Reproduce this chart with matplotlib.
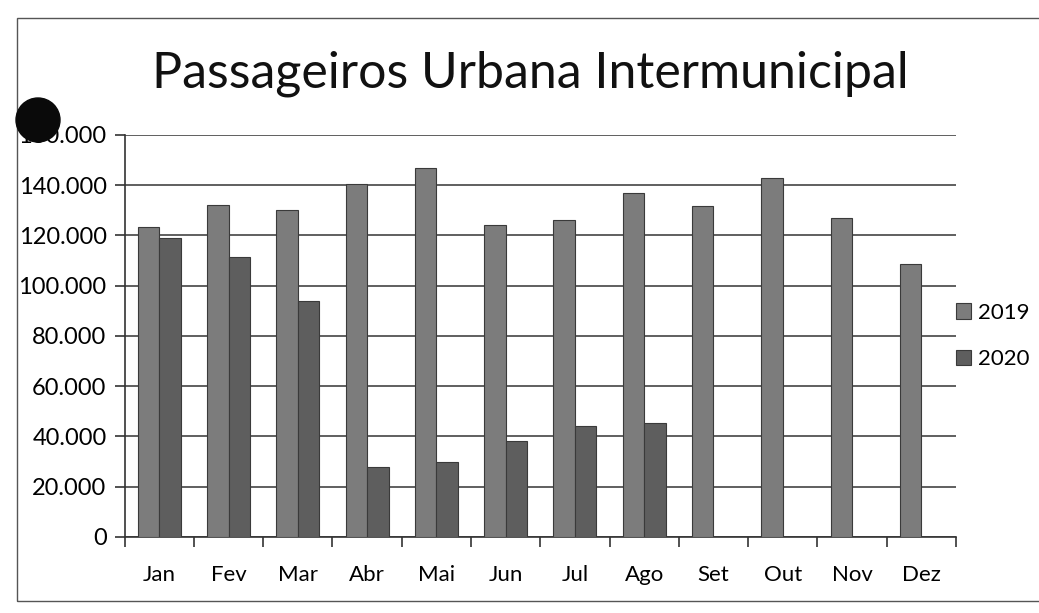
import matplotlib
matplotlib.use("Agg")
import matplotlib.pyplot as plt
from matplotlib.ticker import FuncFormatter
from matplotlib.patches import Circle, Rectangle
import numpy as np

# Données
meses = ["Jan", "Fev", "Mar", "Abr", "Mai", "Jun", "Jul", "Ago", "Set", "Out", "Nov", "Dez"]
passageiros_2019 = [123500, 132000, 130000, 140500, 147000, 124000, 126000, 137000, 131500, 143000, 127000, 108500]
passageiros_2020 = [119000, 111500, 94000, 28000, 30000, 38000, 44000, 45500]

plt.rcParams['font.family'] = ['Lato', 'DejaVu Sans']

fig = plt.figure(figsize=(10.39, 6.13), dpi=100)
ax = fig.add_axes([0.120, 0.124, 0.80, 0.656])

x = np.arange(len(meses))
largeur = 0.31
cor_2019 = "#7c7c7c"
cor_2020 = "#5e5e5e"

ax.bar(x - largeur / 2, passageiros_2019, width=largeur, color=cor_2019,
       edgecolor="#3a3a3a", linewidth=0.8, label="2019", zorder=3)
x2 = np.arange(len(passageiros_2020))
ax.bar(x2 + largeur / 2, passageiros_2020, width=largeur, color=cor_2020,
       edgecolor="#3a3a3a", linewidth=0.8, label="2020", zorder=3)

ax.set_xlim(-0.5, len(meses) - 0.5)
ax.set_ylim(0, 160000)
ax.set_yticks(np.arange(0, 160001, 20000))
ax.yaxis.set_major_formatter(FuncFormatter(lambda v, p: f"{int(v):,}".replace(",", ".")))
ax.grid(axis="y", color="#444444", linewidth=1.2, zorder=0)

# Ticks en X entre les catégories (style Excel)
ax.set_xticks(x)
ax.set_xticklabels(meses)
ax.set_xticks(np.arange(-0.5, len(meses), 1), minor=True)
ax.tick_params(axis="x", which="major", length=0, labelsize=16, pad=20)
ax.tick_params(axis="x", which="minor", length=7, width=1.2, color="#333333")
ax.tick_params(axis="y", length=7, width=1.2, color="#333333", labelsize=17, pad=6)

for cote in ["top", "right"]:
    ax.spines[cote].set_visible(False)
ax.spines["left"].set_color("#333333")
ax.spines["bottom"].set_color("#333333")
ax.spines["left"].set_linewidth(1.2)
ax.spines["bottom"].set_linewidth(1.2)

fig.text(0.51, 0.880, "Passageiros Urbana Intermunicipal", ha="center", va="center",
         fontsize=36, color="#111111")

ax.legend(loc="center left", bbox_to_anchor=(1.0, 0.50), frameon=False, fontsize=16,
          handlelength=0.7, handleheight=0.7, handletextpad=0.3, labelspacing=1.2,
          borderpad=0, borderaxespad=0)

# Bordure du graphique et trou de perforation du scan
fig.add_artist(Rectangle((0.016, 0.02), 1.2, 0.95, transform=fig.transFigure,
                         fill=False, edgecolor="#555555", linewidth=1.0))
fig.add_artist(Circle((38, 613 - 120), 22, transform=None, color="#0a0a0a", zorder=10))

fig.savefig("out.png", dpi=100)
